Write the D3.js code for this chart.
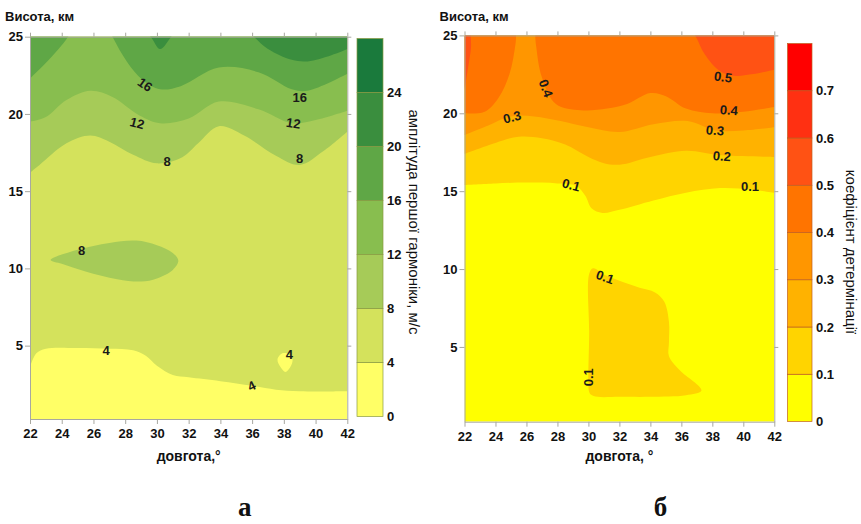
<!DOCTYPE html>
<html>
<head>
<meta charset="utf-8">
<script src="https://cdn.jsdelivr.net/npm/d3@7"></script>
<style>
  body { margin: 0; background: #fff; }
  svg { display: block; font-family: "Liberation Sans", Arial, sans-serif; }
</style>
</head>
<body>
<div id="chart"></div>
<script>
// shared ticks: longitude (degrees) and height (km)
var lonTicks = [22, 24, 26, 28, 30, 32, 34, 36, 38, 40, 42];
var heightTicks = [5, 10, 15, 20, 25];

// panel а: amplitude of the first harmonic, m/s
// contour lines are [longitude, height] pairs
var ampLevels = [0, 4, 8, 12, 16, 20, 24, 28];
var ampLine4 = [[22, 3.6], [22.4, 4.5], [23, 4.8], [25, 4.85], [27, 4.8], [28.5, 4.7], [29.3, 4.35], [30, 3.7], [31, 3.1], [32, 2.95], [34, 2.7], [36, 2.4], [37.5, 2.15], [39, 2.05], [42, 2.05]];
var ampHole4 = [[37.6, 4.1], [37.9, 4.5], [38.3, 4.45], [38.55, 4.1], [38.4, 3.6], [38.1, 3.3], [37.8, 3.6]];
var ampBlob8 = [[23.3, 10.55], [25, 11.2], [27, 11.65], [28.7, 11.8], [30, 11.5], [31, 11.0], [31.35, 10.5], [31, 9.9], [30, 9.35], [29, 9.15], [27.5, 9.3], [25.5, 9.8], [24, 10.3]];
var ampLine8 = [[22, 16.2], [22.6, 16.7], [24.3, 18.1], [25.8, 18.6], [27, 18.2], [28.5, 17.35], [30, 16.8], [31.6, 17.2], [32.6, 18.1], [33.9, 19.2], [35.5, 18.6], [37.5, 17.3], [39, 16.7], [40.5, 17.6], [42, 18.85]];
var ampLine12 = [[22, 19.5], [23, 19.8], [24.3, 20.9], [25.8, 21.5], [27.2, 21.1], [28.9, 19.9], [30.2, 19.4], [32, 19.7], [33.9, 20.8], [36.4, 20.3], [38.5, 19.4], [40, 19.6], [42, 20.2]];
var ampLine16 = [[22, 22.3], [22.9, 23.2], [23.8, 24.2], [24.4, 25], [25.3, 26.5], [26.5, 26.5], [27.2, 25], [28.1, 23.4], [29.1, 22.2], [30.2, 21.6], [31.5, 21.8], [33.9, 23.0], [36.4, 22.7], [38.5, 21.6], [39.5, 21.5], [42, 22.6]];
var ampLine20 = [[22, 27], [26, 27], [28.5, 26], [29.6, 25], [30.2, 24.2], [30.9, 25], [32, 26.5], [34.5, 26.5], [36.1, 25], [37, 24.2], [38.5, 23.5], [39.5, 23.4], [41, 23.8], [42, 24.2]];
var ampLabels = [[29.25, 21.9, "16"], [28.75, 19.4, "12"], [30.65, 16.9, "8"], [39.0, 21.1, "16"], [38.6, 19.4, "12"], [39.0, 17.1, "8"], [25.25, 11.15, "8"], [26.8, 4.7, "4"], [35.97, 2.4, "4"], [38.35, 4.4, "4"]];
var ampLabelTilt = [35, 15, 0, 0, 8, 0, 0, 0, -25, 0];

// panel б: coefficient of determination
var detLevels = [0, 0.1, 0.2, 0.3, 0.4, 0.5, 0.6, 0.7, 0.8];
var detBlob01 = [[30.05, 2.1], [30.05, 6], [30.05, 9.7], [30.3, 10.05], [31.1, 9.6], [32, 9.25], [33.3, 8.8], [34.3, 8.5], [34.9, 7.9], [35.2, 6.6], [35.2, 5.3], [35.2, 4.4], [35.9, 3.5], [37.3, 2.2], [36.3, 1.9], [34, 1.8], [32, 1.8], [30.6, 1.8], [30.15, 1.95]];
var detLine01 = [[22, 15.4], [24, 15.5], [26, 15.55], [28, 15.5], [29.2, 15.35], [29.8, 14.7], [30.2, 13.9], [30.9, 13.6], [32, 13.8], [34.2, 14.4], [36.3, 14.9], [38.5, 15.2], [40.5, 15.1], [42, 14.9]];
var detLine02 = [[22, 17.4], [24, 18.1], [25.5, 18.5], [27, 18.4], [28.5, 18.0], [30, 17.2], [31, 16.8], [32, 16.7], [34, 17.2], [36.3, 17.6], [38.6, 17.3], [42, 17.2]];
var detLine03 = [[22, 18.6], [23.5, 19.2], [25, 19.8], [26.5, 19.8], [28.2, 19.5], [30, 19.1], [32, 18.8], [34.2, 19.3], [36.4, 19.5], [38.2, 18.9], [40, 18.9], [42, 19.1]];
var detLine04 = [[22, 20.0], [23.3, 20.1], [24.2, 21.0], [24.9, 22.5], [25.3, 24.5], [25.5, 26.5], [26.4, 26.5], [26.6, 24.5], [27, 22.3], [27.9, 20.6], [29.5, 20.2], [31.2, 20.3], [32.5, 20.6], [34, 21.3], [35, 21.1], [36.3, 20.3], [38, 20.0], [40, 20.1], [42, 20.4]];
var detLine05 = [[22, 21.5], [22.4, 24], [22.8, 27], [36, 27], [36.6, 25.5], [37.0, 24.8], [37.5, 23.8], [38.5, 22.7], [39.5, 22.4], [40.5, 22.5], [42, 22.8]];
var detLabels = [[27.26, 21.6, "0.4"], [25.07, 19.76, "0.3"], [38.69, 22.33, "0.5"], [39.07, 20.2, "0.4"], [38.17, 18.9, "0.3"], [38.62, 17.25, "0.2"], [28.88, 15.4, "0.1"], [40.43, 15.33, "0.1"], [31.07, 9.48, "0.1"], [29.97, 3.05, "0.1"]];
var detLabelTilt = [70, -15, 8, 5, 5, 5, 15, 0, 20, -90];

// colours of the filled bands, lowest first
var ampColors = ["#ffff66", "#d4e25c", "#a6cb58", "#88be4f", "#5fa746", "#3a8e3e", "#1a7a3c"];
var detColors = ["#ffff00", "#ffd400", "#ffb200", "#ff9600", "#ff7400", "#ff5214", "#ff3012", "#ff0000"];

var width = 861, height = 524;

var svg = d3.select("#chart")
    .append("svg")
    .attr("width", width)
    .attr("height", height);

function drawPanel(p) {
    var x = d3.scaleLinear().domain([22, 42]).range([p.left, p.right]);
    var y = d3.scaleLinear().domain([p.hMin, 25]).range([p.bottom, p.top]);

    svg.append("clipPath").attr("id", p.id)
        .append("rect")
        .attr("x", p.left).attr("y", p.top)
        .attr("width", p.right - p.left).attr("height", p.bottom - p.top);

    var body = svg.append("g").attr("clip-path", "url(#" + p.id + ")");

    // lowest band under everything
    body.append("rect")
        .attr("x", p.left).attr("y", p.top)
        .attr("width", p.right - p.left).attr("height", p.bottom - p.top)
        .attr("fill", p.colors[0]);

    // a contour line fills everything above it, closed shapes fill inside
    var above = d3.area()
        .x(function(d) { return x(d[0]); })
        .y0(y(30))
        .y1(function(d) { return y(d[1]); })
        .curve(d3.curveCatmullRom.alpha(0.5));
    var ring = d3.line()
        .x(function(d) { return x(d[0]); })
        .y(function(d) { return y(d[1]); })
        .curve(d3.curveCatmullRomClosed.alpha(0.5));

    p.layers.forEach(function(layer) {
        body.append("path")
            .attr("d", layer.closed ? ring(layer.points) : above(layer.points))
            .attr("fill", p.colors[layer.band]);
    });

    // contour labels
    body.selectAll(".clabel")
        .data(p.labels)
        .enter()
        .append("text")
        .attr("class", "clabel")
        .attr("transform", function(d, i) {
            return "translate(" + x(d[0]) + "," + y(d[1]) + ")rotate(" + p.tilt[i] + ")";
        })
        .attr("text-anchor", "middle")
        .attr("dy", "0.35em")
        .attr("font-size", 13)
        .attr("font-weight", "bold")
        .attr("fill", "#1a1a1a")
        .text(function(d) { return d[2]; });

    // frame with ticks on all four sides
    function styleAxis(g) {
        g.select(".domain").attr("stroke", "#a8a8a0");
        g.selectAll(".tick line").attr("stroke", "#a8a8a0");
        g.selectAll(".tick text")
            .attr("font-family", "'Liberation Sans', Arial, sans-serif")
            .attr("font-size", 13)
            .attr("font-weight", "bold")
            .attr("fill", "#111");
    }
    svg.append("g")
        .attr("transform", "translate(0," + p.bottom + ")")
        .call(d3.axisBottom(x).tickValues(lonTicks).tickSize(5).tickSizeOuter(0).tickPadding(5))
        .call(styleAxis);
    svg.append("g")
        .attr("transform", "translate(0," + p.top + ")")
        .call(d3.axisTop(x).tickValues(lonTicks).tickSize(4).tickSizeOuter(0).tickFormat(""))
        .call(styleAxis);
    svg.append("g")
        .attr("transform", "translate(" + p.left + ",0)")
        .call(d3.axisLeft(y).tickValues(heightTicks).tickSize(5).tickSizeOuter(0).tickPadding(2))
        .call(styleAxis);
    svg.append("g")
        .attr("transform", "translate(" + p.right + ",0)")
        .call(d3.axisRight(y).tickValues(heightTicks).tickSize(4).tickSizeOuter(0).tickFormat(""))
        .call(styleAxis);

    // axis titles
    svg.append("text")
        .attr("x", p.left - 25).attr("y", 21)
        .attr("font-size", 13).attr("font-weight", "bold").attr("fill", "#111")
        .text("Висота, км");
    svg.append("text")
        .attr("x", (p.left + p.right) / 2).attr("y", 461)
        .attr("text-anchor", "middle")
        .attr("font-size", 14).attr("font-weight", "bold").attr("fill", "#111")
        .text(p.xTitle);
    svg.append("text")
        .attr("x", (p.left + p.right) / 2 + p.letterShift).attr("y", 516)
        .attr("text-anchor", "middle")
        .attr("font-family", "'Liberation Serif', 'Times New Roman', serif")
        .attr("font-size", 27).attr("font-weight", "bold").attr("fill", "#111")
        .text(p.letter);

    // colour bar
    var levels = p.levels;
    var c = d3.scaleLinear().domain([levels[0], levels[levels.length - 1]]).range([p.barBottom, p.barTop]);
    svg.append("g").selectAll("rect")
        .data(d3.range(levels.length - 1))
        .enter()
        .append("rect")
        .attr("x", p.barX)
        .attr("y", function(i) { return c(levels[i + 1]); })
        .attr("width", p.barW)
        .attr("height", function(i) { return c(levels[i]) - c(levels[i + 1]); })
        .attr("fill", function(i) { return p.colors[i]; })
        .attr("stroke", p.barStroke)
        .attr("stroke-width", 0.7);
    var barAxis = svg.append("g")
        .attr("transform", "translate(" + (p.barX + p.barW) + ",0)")
        .call(d3.axisRight(c).tickValues(levels.slice(0, -1)).tickSize(0).tickPadding(4)
            .tickFormat(function(d) { return d3.format(p.barFormat)(d); }))
        .call(styleAxis);
    barAxis.select(".domain").remove();

    svg.append("text")
        .attr("transform", "translate(" + p.titleX + "," + p.titleY + ")rotate(90)")
        .attr("text-anchor", "middle")
        .attr("dy", "0.35em")
        .attr("font-size", 15).attr("fill", "#111")
        .text(p.barTitle);
}

drawPanel({
    id: "clip-a",
    left: 30, right: 347.3, top: 36.7, bottom: 419, hMin: 0.25,
    colors: ampColors,
    levels: ampLevels,
    layers: [
        { points: ampLine4, band: 1 },
        { points: ampHole4, band: 0, closed: true },
        { points: ampBlob8, band: 2, closed: true },
        { points: ampLine8, band: 2 },
        { points: ampLine12, band: 3 },
        { points: ampLine16, band: 4 },
        { points: ampLine20, band: 5 }
    ],
    labels: ampLabels,
    tilt: ampLabelTilt,
    xTitle: "довгота,°",
    letter: "а",
    letterShift: 56,
    barX: 357, barW: 26, barTop: 38.5, barBottom: 416.5,
    barStroke: "#8a9a40",
    barFormat: "d",
    barTitle: "амплітуда першої гармоніки, м/с",
    titleX: 414, titleY: 222
});

drawPanel({
    id: "clip-b",
    left: 464.5, right: 774.3, top: 35.4, bottom: 421.7, hMin: 0.2,
    colors: detColors,
    levels: detLevels,
    layers: [
        { points: detBlob01, band: 1, closed: true },
        { points: detLine01, band: 1 },
        { points: detLine02, band: 2 },
        { points: detLine03, band: 3 },
        { points: detLine04, band: 4 },
        { points: detLine05, band: 5 }
    ],
    labels: detLabels,
    tilt: detLabelTilt,
    xTitle: "довгота, °",
    letter: "б",
    letterShift: 41,
    barX: 787.5, barW: 24.5, barTop: 43.5, barBottom: 421.5,
    barStroke: "#c06020",
    barFormat: ".1~f",
    barTitle: "коефіцієнт детермінації",
    titleX: 851, titleY: 252
});
</script>
</body>
</html>
